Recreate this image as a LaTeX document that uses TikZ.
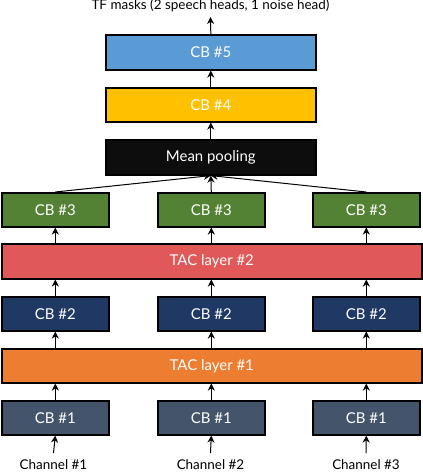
\documentclass[tikz,border=0pt]{standalone}
\usepackage{fontspec}
\setmainfont{Lato}
\usetikzlibrary{arrows.meta}
\definecolor{cbfive}{HTML}{5B9BD5}
\definecolor{cbfour}{HTML}{FFC000}
\definecolor{meanp}{HTML}{0D0D0D}
\definecolor{cbthree}{HTML}{548235}
\definecolor{tactwo}{HTML}{E05858}
\definecolor{cbtwo}{HTML}{203864}
\definecolor{tacone}{HTML}{ED7D31}
\definecolor{cbone}{HTML}{44546A}
\begin{document}
\begin{tikzpicture}[x=1bp,y=-1bp,
  blk/.style={draw=black,line width=1.6bp,text=white,font=\fontsize{15}{17}\selectfont,inner sep=0pt,anchor=north west},
  lbl/.style={font=\fontsize{13.5}{15}\selectfont,inner sep=0pt,anchor=base},
  arr/.style={-{Stealth[length=7bp,width=7bp]},line width=1bp}]
\useasboundingbox (0,0) rectangle (422,472);
% rows
\node[blk,fill=cbfive,minimum width=210bp,minimum height=35bp] (cb5) at (105,34) {CB \#5};
\node[blk,fill=cbfour,minimum width=210bp,minimum height=34bp] (cb4) at (105,87) {CB \#4};
\node[blk,fill=meanp,minimum width=210bp,minimum height=35bp] (mp) at (105,139) {Mean pooling};
\foreach \n/\x in {a/1,b/157,c/312}{
  \node[blk,fill=cbthree,minimum width=107bp,minimum height=34bp] (cb3\n) at (\x,192) {CB \#3};
  \node[blk,fill=cbtwo,minimum width=107bp,minimum height=34bp] (cb2\n) at (\x,296) {CB \#2};
  \node[blk,fill=cbone,minimum width=107bp,minimum height=34bp] (cb1\n) at (\x,400) {CB \#1};
}
\node[blk,fill=tactwo,minimum width=420bp,minimum height=35bp] (tac2) at (1,243) {TAC layer \#2};
\node[blk,fill=tacone,minimum width=420bp,minimum height=34bp] (tac1) at (1,348) {TAC layer \#1};
% labels
\node[lbl] (out) at (210.5,10) {TF masks (2 speech heads, 1 noise head)};
\node[lbl] (cha) at (53.5,469) {Channel \#1};
\node[lbl] (chb) at (210.5,469) {Channel \#2};
\node[lbl] (chc) at (366,469) {Channel \#3};
\coordinate (outp) at (210.5,17);
% arrows
\foreach \n in {a,b,c}{
  \draw[arr] (ch\n.north |- 0,453) -- (cb1\n.south);
  \draw[arr] (cb1\n.north) -- (cb1\n.north |- tac1.south);
  \draw[arr] (cb1\n.north |- tac1.north) -- (cb2\n.south);
  \draw[arr] (cb2\n.north) -- (cb2\n.north |- tac2.south);
  \draw[arr] (cb2\n.north |- tac2.north) -- (cb3\n.south);
  \draw[arr] (cb3\n.north) -- (mp.south);
}
\draw[arr] (mp.north) -- (cb4.south);
\draw[arr] (cb4.north) -- (cb5.south);
\draw[arr] (cb5.north) -- (outp);
\end{tikzpicture}
\end{document}
